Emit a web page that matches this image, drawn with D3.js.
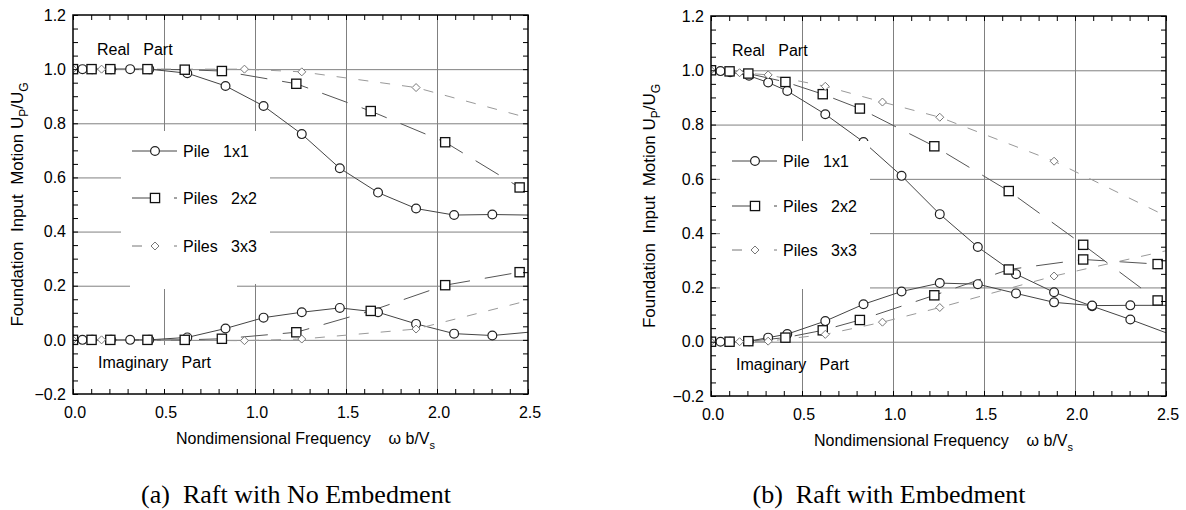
<!DOCTYPE html>
<html>
<head>
<meta charset="utf-8" />
<script src="https://d3js.org/d3.v7.min.js"></script>
<style>
body { margin: 0; background: #fff; }
svg text { font-family: "Liberation Sans", Arial, sans-serif; fill: #000; white-space: pre; }
.caption { font-family: "Liberation Serif", "Times New Roman", serif; font-size: 26px; }
.tick-label { font-size: 16px; }
.grid line { stroke: #808080; stroke-width: 1px; }
.minor line { stroke: #000; stroke-width: 1px; }
</style>
</head>
<body>
<script>
// nondimensional frequency  wb/Vs  at which each group was computed
var freqPile1  = [0, 0.052, 0.105, 0.209, 0.314, 0.419, 0.628, 0.838, 1.047, 1.257, 1.466, 1.676, 1.885, 2.094, 2.304, 2.5];
var freqPiles2 = [0, 0.102, 0.205, 0.409, 0.614, 0.818, 1.227, 1.636, 2.045, 2.454];
var freqPiles3a = [0, 0.157, 0.942, 1.257, 1.885, 2.5];
var freqPiles3b = [0, 0.157, 0.314, 0.628, 0.942, 1.257, 1.885, 2.5];

// (a) raft with no embedment
var pile1ReA  = [1.0, 1.0, 1.0, 1.0, 1.0, 1.0, 0.985, 0.938, 0.864, 0.760, 0.634, 0.544, 0.485, 0.461, 0.463, 0.461];
var pile1ImA  = [0, 0, 0, 0, 0, 0, 0.009, 0.042, 0.082, 0.102, 0.118, 0.102, 0.059, 0.023, 0.016, 0.028];
var piles2ReA = [1.0, 1.0, 1.0, 1.0, 0.998, 0.993, 0.946, 0.845, 0.730, 0.563];
var piles2ImA = [0, 0, 0, 0, 0, 0.004, 0.028, 0.107, 0.202, 0.250];
var piles3ReA = [1.0, 1.0, 1.0, 0.99, 0.932, 0.82];
var piles3ImA = [0, 0, -0.003, 0.003, 0.04, 0.145];

// (b) raft with embedment
var pile1ReB  = [1.0, 0.997, 0.993, 0.980, 0.955, 0.924, 0.838, 0.736, 0.611, 0.470, 0.349, 0.249, 0.182, 0.131, 0.082, 0.033];
var pile1ImB  = [0, 0, 0, 0.002, 0.015, 0.028, 0.076, 0.138, 0.185, 0.216, 0.212, 0.178, 0.145, 0.133, 0.134, 0.134];
var piles2ReB = [1.0, 0.996, 0.988, 0.957, 0.912, 0.859, 0.720, 0.555, 0.357, 0.152];
var piles2ImB = [0, 0, 0.002, 0.015, 0.042, 0.080, 0.171, 0.266, 0.303, 0.286];
var piles3ReB = [1.0, 0.991, 0.983, 0.941, 0.883, 0.827, 0.665, 0.463];
var piles3ImB = [0, 0, 0.002, 0.027, 0.072, 0.126, 0.242, 0.335];

var xTicks = [0, 0.5, 1.0, 1.5, 2.0, 2.5];
var yTicks = [-0.2, 0, 0.2, 0.4, 0.6, 0.8, 1.0, 1.2];
var legendNames = ["Pile   1x1", "Piles   2x2", "Piles   3x3"];

var svg = d3.select("body").append("svg")
    .attr("width", 1186)
    .attr("height", 510);

// line / marker style per group
var styles = [
  { color: "#444", dash: null,    marker: "circle",  legendDash: null },
  { color: "#555", dash: "27,15", marker: "square",  legendDash: "20,22,3" },
  { color: "#999", dash: "10,12", marker: "diamond", legendDash: "10,32,3" }
];

function drawMarker(sel, kind, cx, cy) {
  if (kind == "circle") {
    sel.append("circle").attr("cx", cx).attr("cy", cy).attr("r", 4.4)
      .style("fill", "#fff").style("stroke", "#222").style("stroke-width", 1.2);
  } else if (kind == "square") {
    sel.append("rect").attr("x", cx - 4.6).attr("y", cy - 4.6)
      .attr("width", 9.2).attr("height", 9.2)
      .style("fill", "#fff").style("stroke", "#111").style("stroke-width", 1.3);
  } else {
    sel.append("path")
      .attr("d", "M" + cx + "," + (cy - 4) + "L" + (cx + 4) + "," + cy +
                 "L" + cx + "," + (cy + 4) + "L" + (cx - 4) + "," + cy + "Z")
      .style("fill", "#fff").style("stroke", "#777").style("stroke-width", 1);
  }
}

function panel(cfg) {
  var x = d3.scaleLinear().domain([0, 2.5]).range([cfg.x0, cfg.x1]);
  var y = d3.scaleLinear().domain([-0.2, 1.2]).range([cfg.y1, cfg.y0]);
  var w = cfg.x1 - cfg.x0, h = cfg.y1 - cfg.y0;
  var g = svg.append("g");

  g.append("clipPath").attr("id", "clip" + cfg.id)
    .append("rect").attr("x", cfg.x0).attr("y", cfg.y0).attr("width", w).attr("height", h);

  // gridlines
  g.append("g").attr("class", "grid")
    .attr("transform", "translate(0," + cfg.y1 + ")")
    .call(d3.axisBottom(x).tickValues([0.5, 1.0, 1.5, 2.0]).tickSize(-h).tickFormat(""))
    .call(function(s) { s.select(".domain").remove(); });
  g.append("g").attr("class", "grid")
    .attr("transform", "translate(" + cfg.x0 + ",0)")
    .call(d3.axisLeft(y).tickValues([0, 0.2, 0.4, 0.6, 0.8, 1.0]).tickSize(-w).tickFormat(""))
    .call(function(s) { s.select(".domain").remove(); });

  // label boxes that hide the grid
  cfg.boxes.forEach(function(b) {
    g.append("rect").attr("x", b[0]).attr("y", b[1])
      .attr("width", b[2] - b[0]).attr("height", b[3] - b[1]).style("fill", "#fff");
  });

  // curves
  var line = d3.line()
      .x(function(d) { return x(d[0]); })
      .y(function(d) { return y(d[1]); });
  var plot = g.append("g").attr("clip-path", "url(#clip" + cfg.id + ")");
  cfg.series.forEach(function(s) {
    var st = styles[s.group];
    var pts = s.xs.map(function(v, i) { return [v, s.ys[i]]; });
    plot.append("path")
      .attr("d", line(pts))
      .style("fill", "none")
      .style("stroke", st.color)
      .style("stroke-width", 1)
      .style("stroke-dasharray", st.dash);
  });
  cfg.series.forEach(function(s) {
    var st = styles[s.group];
    s.xs.forEach(function(v, i) {
      if (v < 2.49) drawMarker(plot, st.marker, x(v), y(s.ys[i]));
    });
  });

  // legend area covers grid and curves
  g.append("rect").attr("x", cfg.legBox[0]).attr("y", cfg.legBox[1])
    .attr("width", cfg.legBox[2] - cfg.legBox[0]).attr("height", cfg.legBox[3] - cfg.legBox[1])
    .style("fill", "#fff");

  // frame and minor ticks (inside)
  function minor(axis, tx, ty, vals) {
    g.append("g").attr("class", "minor")
      .attr("transform", "translate(" + tx + "," + ty + ")")
      .call(axis.tickValues(vals).tickSize(-5).tickFormat(""))
      .call(function(s) { s.select(".domain").remove(); });
  }
  var xm = d3.range(0, 2.5001, 0.1), ym = d3.range(-0.2, 1.2001, 0.05);
  minor(d3.axisBottom(x), 0, cfg.y1, xm);
  minor(d3.axisTop(x), 0, cfg.y0, xm);
  minor(d3.axisLeft(y), cfg.x0, 0, ym);
  minor(d3.axisRight(y), cfg.x1, 0, ym);
  g.append("rect").attr("x", cfg.x0).attr("y", cfg.y0).attr("width", w).attr("height", h)
    .style("fill", "none").style("stroke", "#000").style("stroke-width", 1.5);

  // tick labels
  var fmt = d3.format(".1f");
  g.selectAll(".xl").data(xTicks).enter().append("text")
    .attr("class", "tick-label")
    .attr("x", function(d) { return x(d) + 2; })
    .attr("y", cfg.y1 + 24)
    .style("text-anchor", "middle")
    .text(function(d) { return fmt(d); });
  g.selectAll(".yl").data(yTicks).enter().append("text")
    .attr("class", "tick-label")
    .attr("x", cfg.x0 - 7)
    .attr("y", function(d) { return y(d); })
    .attr("dy", "0.36em")
    .style("text-anchor", "end")
    .text(function(d) { return fmt(d); });

  // axis titles
  var xt = g.append("text")
    .attr("x", (cfg.x0 + cfg.x1) / 2 + 5)
    .attr("y", cfg.y1 + 50)
    .style("font-size", "16px")
    .style("text-anchor", "middle");
  xt.append("tspan").text("Nondimensional Frequency    \u03c9 b/V");
  xt.append("tspan").attr("dy", 5).style("font-size", "11px").text("s");

  var yt = g.append("text")
    .attr("transform", "translate(" + cfg.yTitleX + "," + ((cfg.y0 + cfg.y1) / 2) + ") rotate(-90)")
    .style("font-size", "17px")
    .style("text-anchor", "middle");
  yt.append("tspan").text("Foundation  Input  Motion U");
  yt.append("tspan").attr("dy", 5).style("font-size", "12px").text("P");
  yt.append("tspan").attr("dy", -5).text("/U");
  yt.append("tspan").attr("dy", 5).style("font-size", "12px").text("G");

  // part labels
  g.append("text").attr("x", cfg.realX).attr("y", cfg.y0 + 40)
    .style("font-size", "16px").text("Real   Part");
  g.append("text").attr("x", cfg.imagX).attr("y", y(0) + 28)
    .style("font-size", "16px").text("Imaginary   Part");

  // legend
  cfg.legRows.forEach(function(ry, i) {
    var st = styles[i];
    g.append("line")
      .attr("x1", cfg.legX).attr("x2", cfg.legX + 45)
      .attr("y1", ry).attr("y2", ry)
      .style("stroke", i == 2 ? "#777" : "#444")
      .style("stroke-width", 1)
      .style("stroke-dasharray", st.legendDash);
    drawMarker(g, st.marker, cfg.legX + 23, ry);
    g.append("text").attr("x", cfg.legX + 51).attr("y", ry).attr("dy", "0.36em")
      .style("font-size", "16px").text(legendNames[i]);
  });

  svg.append("text").attr("class", "caption")
    .attr("x", cfg.capX).attr("y", 503)
    .style("text-anchor", "middle")
    .text(cfg.caption);
}

panel({
  id: "a", x0: 73, x1: 528, y0: 15, y1: 394,
  yTitleX: 23, realX: 97, imagX: 98, capX: 296,
  caption: "(a)  Raft with No Embedment",
  legX: 132, legRows: [151, 198, 246],
  legBox: [121, 131, 270, 284],
  boxes: [[130, 283, 237, 289], [95, 345, 224, 393]],
  series: [
    { group: 0, xs: freqPile1, ys: pile1ReA },
    { group: 0, xs: freqPile1, ys: pile1ImA },
    { group: 1, xs: freqPiles2, ys: piles2ReA },
    { group: 1, xs: freqPiles2, ys: piles2ImA },
    { group: 2, xs: freqPiles3a, ys: piles3ReA },
    { group: 2, xs: freqPiles3a, ys: piles3ImA }
  ]
});

panel({
  id: "b", x0: 711, x1: 1166, y0: 16, y1: 396,
  yTitleX: 655, realX: 732, imagX: 736, capX: 889,
  caption: "(b)  Raft with Embedment",
  legX: 732, legRows: [161, 206, 250],
  legBox: [720, 141, 870, 289],
  boxes: [],
  series: [
    { group: 0, xs: freqPile1, ys: pile1ReB },
    { group: 0, xs: freqPile1, ys: pile1ImB },
    { group: 1, xs: freqPiles2, ys: piles2ReB },
    { group: 1, xs: freqPiles2, ys: piles2ImB },
    { group: 2, xs: freqPiles3b, ys: piles3ReB },
    { group: 2, xs: freqPiles3b, ys: piles3ImB }
  ]
});
</script>
</body>
</html>
